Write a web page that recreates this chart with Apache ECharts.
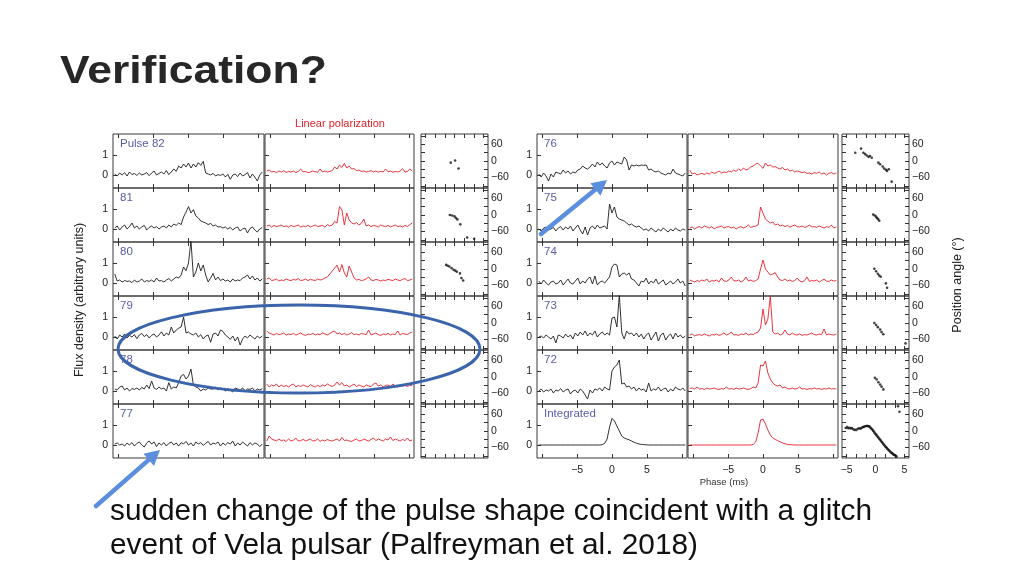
<!DOCTYPE html>
<html><head><meta charset="utf-8">
<script src="https://cdn.jsdelivr.net/npm/echarts@6/dist/echarts.min.js"></script>
<style>html,body{margin:0;padding:0;background:#fff}#c{width:1024px;height:576px}</style>
</head><body><div id="c"></div>
<script>
// ---------------- DATA ----------------
const phaseStart = -10.5, phaseStep = 0.35;   // pulse-phase bins (ms)
const leftLabels  = ['Pulse 82','81','80','79','78','77'];
const rightLabels = ['76','75','74','73','72','Integrated'];
const fluxTickLabels = [0, 1];
const phaseTickLabels = [-5, 0, 5];
const paTickLabels = [-60, 0, 60];

const flux82 = [0.05,-0.05,0.1,0.0,0.12,-0.05,0.15,0.02,0.08,-0.02,0.1,0.0,0.05,0.12,-0.03,0.1,0.2,0.0,0.08,0.15,0.05,0.22,0.02,0.15,0.3,0.18,0.45,0.35,0.55,0.4,0.6,0.35,0.55,0.4,0.62,0.48,0.68,0.1,0.05,0.0,0.08,-0.05,0.02,-0.02,0.05,-0.1,0.03,-0.22,0.0,0.05,-0.08,0.1,-0.05,0.02,0.12,-0.15,0.05,-0.1,-0.3,0.0,0.15];
const lin82  = [0.2,0.25,0.15,0.18,0.12,0.2,0.15,0.22,0.13,0.18,0.15,0.2,0.12,0.18,0.3,0.15,0.18,0.12,0.15,0.2,0.17,0.14,0.3,0.15,0.2,0.15,0.18,0.22,0.4,0.3,0.5,0.38,0.58,0.35,0.45,0.3,0.32,0.22,0.25,0.18,0.2,0.15,0.18,0.22,0.15,0.2,0.14,0.18,0.15,0.3,0.16,0.2,0.14,0.18,0.15,0.2,0.32,0.15,0.18,0.3,0.2];
const flux81 = [0.05,0.15,-0.05,0.1,0.2,0.0,0.12,0.3,0.05,0.15,0.0,0.1,0.18,-0.05,0.08,0.15,0.05,0.12,0.0,0.1,0.15,0.05,0.2,0.1,0.25,0.18,0.3,0.22,0.6,0.85,1.12,0.8,0.97,0.65,0.55,0.4,0.35,0.3,0.22,0.28,0.15,0.2,0.1,0.12,0.05,0.1,0.0,0.08,-0.05,0.05,0.1,-0.1,0.0,0.05,-0.2,0.02,0.1,-0.05,-0.15,0.0,0.08];
const lin81  = [0.15,0.2,0.1,0.18,0.12,0.15,0.2,0.12,0.15,0.1,0.18,0.12,0.15,0.2,0.1,0.15,0.12,0.18,0.1,0.15,0.2,0.12,0.15,0.18,0.1,0.22,0.15,0.2,0.38,0.3,1.12,0.95,0.2,0.8,0.45,0.3,0.25,0.32,0.2,0.28,0.5,0.15,0.2,0.12,0.18,0.15,0.1,0.2,0.15,0.12,0.18,0.1,0.15,0.2,0.12,0.15,0.1,0.18,0.12,0.22,0.3];
const flux80 = [0.45,0.1,0.15,0.05,0.12,0.08,0.1,0.02,0.15,0.05,0.1,0.2,0.05,0.12,0.08,0.15,0.05,0.25,0.1,0.12,0.05,0.15,0.22,0.1,0.2,0.3,0.25,0.4,0.8,0.62,1.0,2.1,0.3,0.55,1.0,0.6,0.9,0.4,0.05,0.25,0.48,0.15,0.3,0.12,0.2,0.1,0.15,0.05,0.2,0.1,0.15,0.12,0.25,0.3,0.4,0.2,0.35,0.15,0.25,0.1,0.2];
const lin80  = [0.2,0.25,0.12,0.15,0.2,0.1,0.15,0.12,0.2,0.15,0.12,0.18,0.15,0.22,0.12,0.15,0.2,0.12,0.18,0.15,0.12,0.2,0.15,0.18,0.25,0.3,0.45,0.6,0.75,0.9,0.55,0.92,0.5,0.3,0.85,0.55,0.25,0.15,0.18,0.12,0.15,0.2,0.3,0.15,0.12,0.18,0.15,0.1,0.15,0.12,0.18,0.15,0.12,0.2,0.15,0.12,0.18,0.22,0.12,0.15,0.2];
const flux79 = [0.05,-0.1,0.1,0.0,0.15,-0.05,0.08,0.0,0.12,-0.08,0.1,0.18,0.02,0.12,-0.05,0.08,0.15,0.0,0.1,0.26,0.05,0.2,0.1,0.5,0.2,0.35,0.44,0.5,1.0,0.2,0.25,0.15,0.1,0.2,0.0,0.12,-0.1,0.05,0.1,-0.26,0.15,0.2,0.05,0.35,0.28,0.1,0.0,-0.12,0.05,-0.2,0.0,-0.4,-0.1,0.05,-0.05,0.1,0.0,-0.1,0.05,-0.05,0.05];
const lin79  = [0.3,0.2,0.15,0.1,0.18,0.12,0.15,0.2,0.1,0.15,0.12,0.18,0.1,0.15,0.2,0.12,0.08,0.15,0.12,0.18,0.1,0.15,0.12,0.2,0.15,0.1,0.18,0.25,0.3,0.15,0.2,0.12,0.18,0.1,0.15,0.22,0.12,0.15,0.1,0.18,0.15,0.12,0.35,0.1,0.15,0.2,0.12,0.08,0.15,0.12,0.18,0.1,0.15,0.12,0.3,0.1,0.18,0.15,0.12,0.2,0.25];
const flux78 = [0.1,0.05,0.2,0.25,0.05,0.15,0.0,0.12,0.08,0.15,0.05,0.18,0.1,0.3,0.12,0.5,0.15,0.08,0.2,0.1,0.15,0.0,0.42,0.1,0.2,0.15,0.42,0.75,0.83,0.6,0.75,1.1,0.3,0.2,0.15,0.0,0.1,0.05,0.15,0.1,0.1,0.2,0.05,0.15,0.1,0.0,0.12,0.05,-0.05,0.15,0.1,0.05,0.15,0.0,0.1,0.08,0.15,0.0,0.1,0.05,0.12];
const lin78  = [0.35,0.2,0.3,0.25,0.35,0.2,0.3,0.22,0.28,0.2,0.3,0.35,0.2,0.28,0.22,0.3,0.25,0.2,0.32,0.25,0.2,0.28,0.22,0.3,0.25,0.35,0.28,0.22,0.3,0.45,0.3,0.42,0.25,0.3,0.2,0.28,0.35,0.22,0.3,0.25,0.2,0.3,0.25,0.22,0.35,0.4,0.25,0.3,0.2,0.28,0.3,0.22,0.35,0.25,0.2,0.3,0.25,0.28,0.22,0.3,0.25];
const flux77 = [0.05,0.1,0.0,0.05,-0.05,0.1,0.0,0.12,-0.05,0.08,0.15,0.0,-0.1,0.1,0.2,0.05,0.15,-0.08,0.1,0.0,0.12,-0.05,0.08,0.15,0.0,0.1,-0.05,0.12,0.05,0.18,0.0,0.1,-0.05,0.15,0.05,0.12,-0.02,0.08,0.18,0.0,0.1,0.05,0.15,-0.05,0.1,0.0,0.12,0.05,0.2,-0.05,0.1,0.0,0.15,0.05,-0.05,0.12,0.0,0.1,0.05,-0.08,0.05];
const lin77  = [0.2,0.45,0.3,0.25,0.2,0.3,0.22,0.25,0.18,0.3,0.2,0.25,0.35,0.2,0.22,0.28,0.2,0.25,0.3,0.2,0.22,0.3,0.18,0.25,0.2,0.28,0.22,0.2,0.25,0.3,0.2,0.38,0.22,0.25,0.2,0.18,0.25,0.3,0.2,0.22,0.3,0.25,0.2,0.28,0.35,0.22,0.3,0.25,0.2,0.3,0.25,0.4,0.22,0.3,0.25,0.2,0.28,0.22,0.35,0.2,0.25];

const flux76 = [0.05,-0.1,0.1,-0.05,-0.3,0.05,-0.1,0.15,0.1,0.05,0.25,0.1,0.2,0.05,0.15,0.1,0.25,0.3,0.45,0.35,0.3,0.4,0.55,0.4,0.65,0.5,0.6,0.45,0.35,0.6,0.7,0.5,0.65,0.6,0.55,0.9,0.75,0.25,0.5,0.45,0.5,0.45,0.5,0.48,0.5,0.25,0.3,0.2,0.15,0.2,0.1,0.05,0.0,0.1,0.05,0.3,0.1,0.05,0.0,-0.05,0.1];
const lin76  = [0.25,0.05,0.1,0.0,0.05,0.08,0.02,0.1,0.05,0.15,0.08,0.12,0.2,0.1,0.15,0.12,0.2,0.15,0.25,0.18,0.3,0.22,0.35,0.25,0.3,0.4,0.45,0.55,0.58,0.45,0.33,0.6,0.45,0.5,0.4,0.42,0.35,0.3,0.38,0.25,0.3,0.2,0.25,0.15,0.2,0.17,0.12,0.15,0.08,0.1,0.05,0.12,0.08,0.15,0.05,0.1,0.0,0.08,0.12,0.05,0.1];
const flux75 = [0.0,-0.1,0.05,0.1,-0.05,0.0,0.08,-0.1,0.05,0.12,-0.05,0.1,0.0,0.15,-0.1,0.05,0.2,-0.05,-0.25,0.1,-0.3,0.05,0.15,0.0,0.2,0.05,0.1,0.15,0.0,1.25,0.8,1.1,0.6,0.5,0.45,0.4,0.3,0.2,0.25,0.15,0.1,0.15,0.05,-0.05,0.0,-0.1,0.05,-0.05,-0.15,0.0,-0.1,0.05,-0.05,-0.15,0.0,-0.1,0.05,-0.05,-0.1,0.0,-0.05];
const lin75  = [0.05,0.1,0.0,0.08,0.12,0.05,0.15,0.1,0.05,0.12,0.0,0.08,0.1,0.15,0.05,0.1,0.12,0.05,0.1,0.0,0.08,0.12,0.05,0.1,0.2,0.08,0.12,0.15,0.2,1.1,0.8,0.5,0.4,0.3,0.35,0.2,0.25,0.15,0.2,0.12,0.18,0.1,0.15,0.2,0.12,0.1,0.15,0.08,0.12,0.2,0.1,0.12,0.08,0.15,0.1,0.05,0.12,0.08,0.2,0.05,0.1];
const flux74 = [0.1,-0.05,0.15,0.0,-0.1,0.05,0.1,-0.05,0.0,0.15,-0.1,0.05,0.2,0.0,-0.05,0.1,0.25,-0.05,0.1,0.0,0.2,0.3,-0.05,0.35,-0.1,0.05,0.1,0.0,0.15,0.3,0.8,0.95,0.9,0.3,0.45,0.5,0.4,0.5,0.2,0.15,0.0,-0.15,0.1,0.05,0.25,-0.05,0.1,0.0,0.2,-0.05,0.05,0.15,-0.1,0.0,0.1,-0.05,0.05,0.2,0.0,0.1,-0.15];
const lin74  = [0.15,0.1,0.05,0.12,0.08,0.15,0.1,0.2,0.05,0.12,0.1,0.15,0.05,0.25,0.1,0.08,0.15,0.3,0.12,0.1,0.15,0.05,0.12,0.3,0.1,0.15,0.08,0.12,0.2,0.7,1.15,0.7,0.55,0.4,0.45,0.52,0.3,0.15,0.12,0.2,0.1,0.15,0.08,0.12,0.25,0.1,0.05,0.12,0.3,0.08,0.12,0.1,0.15,0.05,0.12,0.2,0.1,0.08,0.15,0.1,0.12];
const flux73 = [0.0,0.05,-0.05,0.1,0.0,-0.1,0.05,-0.3,0.1,0.05,-0.05,0.15,0.0,0.1,-0.1,0.2,0.05,0.25,0.1,0.3,0.05,0.2,0.1,0.3,0.0,0.15,0.25,0.1,0.2,0.1,0.95,1.0,0.5,2.1,0.2,-0.1,0.3,0.15,0.2,0.05,0.2,0.0,0.15,-0.1,0.1,0.2,-0.15,0.05,0.25,-0.2,0.1,0.2,-0.15,0.05,0.15,-0.1,0.2,0.0,0.1,-0.05,0.05];
const lin73  = [0.1,0.15,0.05,0.1,0.12,0.08,0.15,0.1,0.05,0.12,0.1,0.15,0.08,0.12,0.2,0.1,0.15,0.25,0.1,0.12,0.08,0.15,0.12,0.2,0.1,0.15,0.12,0.2,0.25,0.45,1.4,0.6,0.9,2.05,0.25,0.15,0.2,0.1,0.15,0.35,0.15,0.1,0.2,0.12,0.1,0.15,0.08,0.12,0.1,0.15,0.2,0.12,0.1,0.15,0.12,0.4,0.1,0.15,0.12,0.1,0.15];
const flux72 = [0.0,0.1,-0.05,0.05,0.0,0.1,-0.1,0.05,0.0,0.12,-0.05,0.05,0.1,-0.15,0.0,0.05,-0.1,0.1,0.0,-0.2,-0.4,0.05,-0.1,0.1,0.05,0.15,0.0,0.2,0.1,0.05,1.0,1.2,1.3,1.55,0.35,0.4,0.2,0.25,0.1,0.2,0.0,0.15,0.05,0.1,-0.05,0.4,0.0,0.1,0.05,0.2,0.0,0.1,0.15,-0.05,0.1,0.0,0.2,0.1,0.05,0.15,0.0];
const lin72  = [0.12,0.15,0.1,0.2,0.1,0.12,0.08,0.15,0.1,0.12,0.15,0.1,0.08,0.12,0.1,0.2,0.1,0.12,0.08,0.15,0.1,0.12,0.15,0.1,0.08,0.12,0.2,0.15,0.4,1.3,1.25,1.5,0.9,0.6,0.4,0.3,0.25,0.3,0.15,0.2,0.12,0.1,0.15,0.1,0.12,0.2,0.1,0.12,0.08,0.12,0.1,0.15,0.1,0.12,0.08,0.12,0.1,0.15,0.1,0.12,0.1];
const fluxInt = [0,0,0,0,0,0,0,0,0,0,0,0,0,0,0,0,0,0,0,0,0,0,0,0,0,0,0.02,0.08,0.3,0.9,1.33,1.2,0.95,0.7,0.45,0.35,0.3,0.26,0.2,0.14,0.09,0.05,0.03,0.02,0.01,0,0,0,0,0,0,0,0,0,0,0,0,0,0,0,0];
const linInt  = [0,0,0,0,0,0,0,0,0,0,0,0,0,0,0,0,0,0,0,0,0,0,0,0,0,0,0.03,0.15,0.6,1.25,1.3,1.05,0.75,0.5,0.35,0.28,0.22,0.16,0.1,0.06,0.03,0.02,0.01,0,0,0,0,0,0,0,0,0,0,0,0,0,0,0,0,0,0];

// position angle points: [phase (ms), angle (deg)]
const pa82 = [[-0.65,-6],[0.1,2],[0.7,-27]];
const pa81 = [[-0.8,0],[-0.4,-2],[0,-5],[0.25,-11],[0.5,-16],[1.0,-34],[2.2,-82],[3.4,-86]];
const pa80 = [[-1.45,15],[-1.2,12],[-0.9,9],[-0.5,3],[-0.15,-3],[0.15,-6],[0.4,-10],[0.95,-16],[1.2,-33],[1.5,-42]];
const pa79 = [], pa78 = [], pa77 = [];
const pa76 = [[-3.5,30],[-2.5,45],[-2.1,30],[-1.8,25],[-1.5,20],[-1.2,15],[-0.95,18],[-0.65,12],[0.5,-6],[0.8,-12],[1.25,-20],[1.5,-27],[1.8,-32],[2.0,-36],[2.3,-30],[2.8,-75]];
const pa75 = [[-0.4,2],[-0.15,-2],[0.1,-6],[0.25,-11],[0.45,-15],[0.65,-21]];
const pa74 = [[-0.2,1],[0.1,-8],[0.4,-17],[0.65,-24],[0.9,-28],[1.8,-52],[2.0,-68]];
const pa73 = [[-0.2,0],[0.1,-7],[0.4,-15],[0.8,-24],[1.05,-33],[1.35,-41],[5.2,-74]];
const pa72 = [[-0.1,-3],[0.2,-9],[0.5,-19],[0.8,-27],[1.05,-35],[1.35,-45]];
const paInt = [[-5.15,11],[-4.9,14],[-4.7,10],[-4.5,12],[-4.3,9],[-4.1,11],[-3.85,6],[-3.6,4],[-3.3,4],[-3.05,8],[-2.8,10],[-2.6,8],[-2.4,12],[-2.2,14],[-2.0,15],[-1.8,17],[-1.6,18],[-1.45,18],[-1.3,18],[-1.15,17],[-1.0,15],[-0.85,12],[-0.7,8],[-0.55,5],[-0.4,1],[-0.25,-3],[-0.1,-8],[0.05,-12],[0.2,-16],[0.35,-20],[0.5,-24],[0.65,-28],[0.8,-32],[0.95,-36],[1.1,-40],[1.25,-44],[1.4,-48],[1.55,-52],[1.7,-56],[1.85,-59],[2.0,-63],[2.15,-66],[2.3,-70],[2.45,-73],[2.6,-76],[2.75,-79],[2.9,-81],[3.05,-84],[3.2,-86],[3.35,-88],[3.5,-90],[3.65,-93],[3.9,90],[4.15,70]];

// ---------------- LAYOUT ----------------
const ROW_TOPS = [134,188,242,296,350,404], ROW_H = 54;
const COLS = [
  [{left:113,width:151},{left:265,width:149},{left:421,width:67}],
  [{left:537,width:150},{left:688,width:150},{left:842,width:67}]
];
const blocks = [
  {labels:leftLabels,  flux:[flux82,flux81,flux80,flux79,flux78,flux77], lin:[lin82,lin81,lin80,lin79,lin78,lin77], pa:[pa82,pa81,pa80,pa79,pa78,pa77]},
  {labels:rightLabels, flux:[flux76,flux75,flux74,flux73,flux72,fluxInt], lin:[lin76,lin75,lin74,lin73,lin72,linInt], pa:[pa76,pa75,pa74,pa73,pa72,paInt]}
];
const FONT = '"Liberation Sans", Arial, Helvetica, sans-serif';
const minus = v => String(v).replace('-', '\u2212');
const profile = vals => vals.map((v,i) => [+(phaseStart + phaseStep*i).toFixed(3), v]);

const grids=[], xAxes=[], yAxes=[], series=[], graphics=[];
const tickStyle = {color:'#333', width:1};
const noLine = {show:false, onZero:false};

function addPanel(b, r, c) {
  const blk = blocks[b], col = COLS[b][c];
  const gi = grids.length;
  const isPA = c === 2;
  const lastRow = r === 5;
  grids.push({left:col.left, top:ROW_TOPS[r], width:col.width, height:ROW_H, show:true,
    borderColor:'#3a3a3a', borderWidth:1});
  const xmin = isPA ? -5.8 : -10.75, xmax = -xmin;
  const xticks = isPA ? [-5,-10/3,-5/3,0,5/3,10/3,5] : [-10,-5,0,5,10];
  const showXLab = (b === 1 && lastRow);
  const xi = xAxes.length;
  xAxes.push({gridIndex:gi, type:'value', min:xmin, max:xmax, position:'bottom',
    axisLine:noLine, splitLine:{show:false},
    axisTick:{show:true, inside:true, length:4, lineStyle:tickStyle, customValues:xticks},
    axisLabel:{show:showXLab, customValues:phaseTickLabels, formatter:minus, fontSize:10.5, color:'#222', margin:7, fontFamily:FONT}});
  xAxes.push({gridIndex:gi, type:'value', min:xmin, max:xmax, position:'top',
    axisLine:noLine, splitLine:{show:false},
    axisTick:{show:true, inside:true, length:4, lineStyle:tickStyle, customValues:xticks},
    axisLabel:{show:false}});
  const yi = yAxes.length;
  if (!isPA) {
    yAxes.push({gridIndex:gi, type:'value', min:-0.65, max:2.05, position:'left',
      axisLine:noLine, splitLine:{show:false},
      axisTick:{show:true, inside:true, length:4, lineStyle:tickStyle, customValues:fluxTickLabels},
      axisLabel:{show:c===0, customValues:fluxTickLabels, fontSize:10.5, color:'#222', margin:5, fontFamily:FONT}});
    const vals = c === 0 ? blk.flux[r] : blk.lin[r];
    series.push({type:'line', xAxisIndex:xi, yAxisIndex:yi, data:profile(vals), showSymbol:false,
      symbol:'none', lineStyle:{width:0.9, color: c===0 ? '#1c1c1c' : '#e3202b'}, clip:true, silent:true});
  } else {
    const paTicks = [-90,-60,-30,0,30,60,90];
    yAxes.push({gridIndex:gi, type:'value', min:-98, max:98, position:'left',
      axisLine:noLine, splitLine:{show:false},
      axisTick:{show:true, inside:true, length:4, lineStyle:tickStyle, customValues:paTicks},
      axisLabel:{show:false}});
    yAxes.push({gridIndex:gi, type:'value', min:-98, max:98, position:'right',
      axisLine:noLine, splitLine:{show:false},
      axisTick:{show:true, inside:true, length:4, lineStyle:tickStyle, customValues:paTicks},
      axisLabel:{show:true, customValues:paTickLabels, formatter:minus, fontSize:10.5, color:'#222', margin:3, fontFamily:FONT}});
    series.push({type:'scatter', xAxisIndex:xi, yAxisIndex:yi, data:blk.pa[r], symbol:'circle',
      symbolSize:2.6, itemStyle:{color:'#111'}, clip:true, silent:true});
  }
  if (c === 0) {
    graphics.push({type:'text', x:col.left+7, y:ROW_TOPS[r]+10, z:50,
      style:{text:blk.labels[r], fill:'#5a5ca6', font:'11.5px '+FONT, textVerticalAlign:'middle'}});
  }
}
for (let b=0;b<2;b++) for (let r=0;r<6;r++) for (let c=0;c<3;c++) addPanel(b,r,c);

// Text & annotations
graphics.push({type:'text', x:60, y:72, scaleX:1.14, z:50,
  style:{text:'Verification?', fill:'#272727', font:'bold 39px '+FONT, textVerticalAlign:'middle'}});
graphics.push({type:'text', x:340, y:124, z:50,
  style:{text:'Linear polarization', fill:'#e3202b', font:'11px '+FONT, textAlign:'center', textVerticalAlign:'middle'}});
graphics.push({type:'text', x:80, y:300, rotation:Math.PI/2, z:50,
  style:{text:'Flux density (arbitrary units)', fill:'#222', font:'12.5px '+FONT, textAlign:'center', textVerticalAlign:'middle'}});
graphics.push({type:'text', x:958, y:285, rotation:Math.PI/2, z:50,
  style:{text:'Position angle (\u00b0)', fill:'#222', font:'12.5px '+FONT, textAlign:'center', textVerticalAlign:'middle'}});
graphics.push({type:'text', x:724, y:482, z:50,
  style:{text:'Phase (ms)', fill:'#333', font:'9.5px '+FONT, textAlign:'center', textVerticalAlign:'middle'}});
graphics.push({type:'text', x:110, y:512, z:50,
  style:{text:'sudden change of the pulse shape coincident with a glitch', fill:'#111', font:'29.8px '+FONT, textVerticalAlign:'middle'}});
graphics.push({type:'text', x:110, y:546, z:50,
  style:{text:'event of Vela pulsar (Palfreyman et al. 2018)', fill:'#111', font:'29.8px '+FONT, textVerticalAlign:'middle'}});
graphics.push({type:'ellipse', z:60, shape:{cx:299, cy:349, rx:181, ry:44},
  style:{fill:'none', stroke:'#3b64ab', lineWidth:3}});

function arrow(x1,y1,x2,y2,color){
  const ang = Math.atan2(y2-y1, x2-x1), L = 15, W = 8;
  const bx = x2 - L*Math.cos(ang), by = y2 - L*Math.sin(ang);
  const px = -Math.sin(ang)*W, py = Math.cos(ang)*W;
  graphics.push({type:'line', z:60, shape:{x1, y1, x2:bx, y2:by}, style:{stroke:color, lineWidth:4.5, lineCap:'round'}});
  graphics.push({type:'polygon', z:60, shape:{points:[[x2,y2],[bx+px,by+py],[bx-px,by-py]]}, style:{fill:color}});
}
arrow(96,506,160,450,'#5b8fde');
arrow(541,234,607,180,'#5b8fde');

const chart = echarts.init(document.getElementById('c'), null, {renderer:'canvas', width:1024, height:576});
chart.setOption({
  animation:false, backgroundColor:'#ffffff',
  textStyle:{fontFamily:FONT},
  grid:grids, xAxis:xAxes, yAxis:yAxes, series:series,
  graphic:{elements:graphics}
});
</script></body></html>
